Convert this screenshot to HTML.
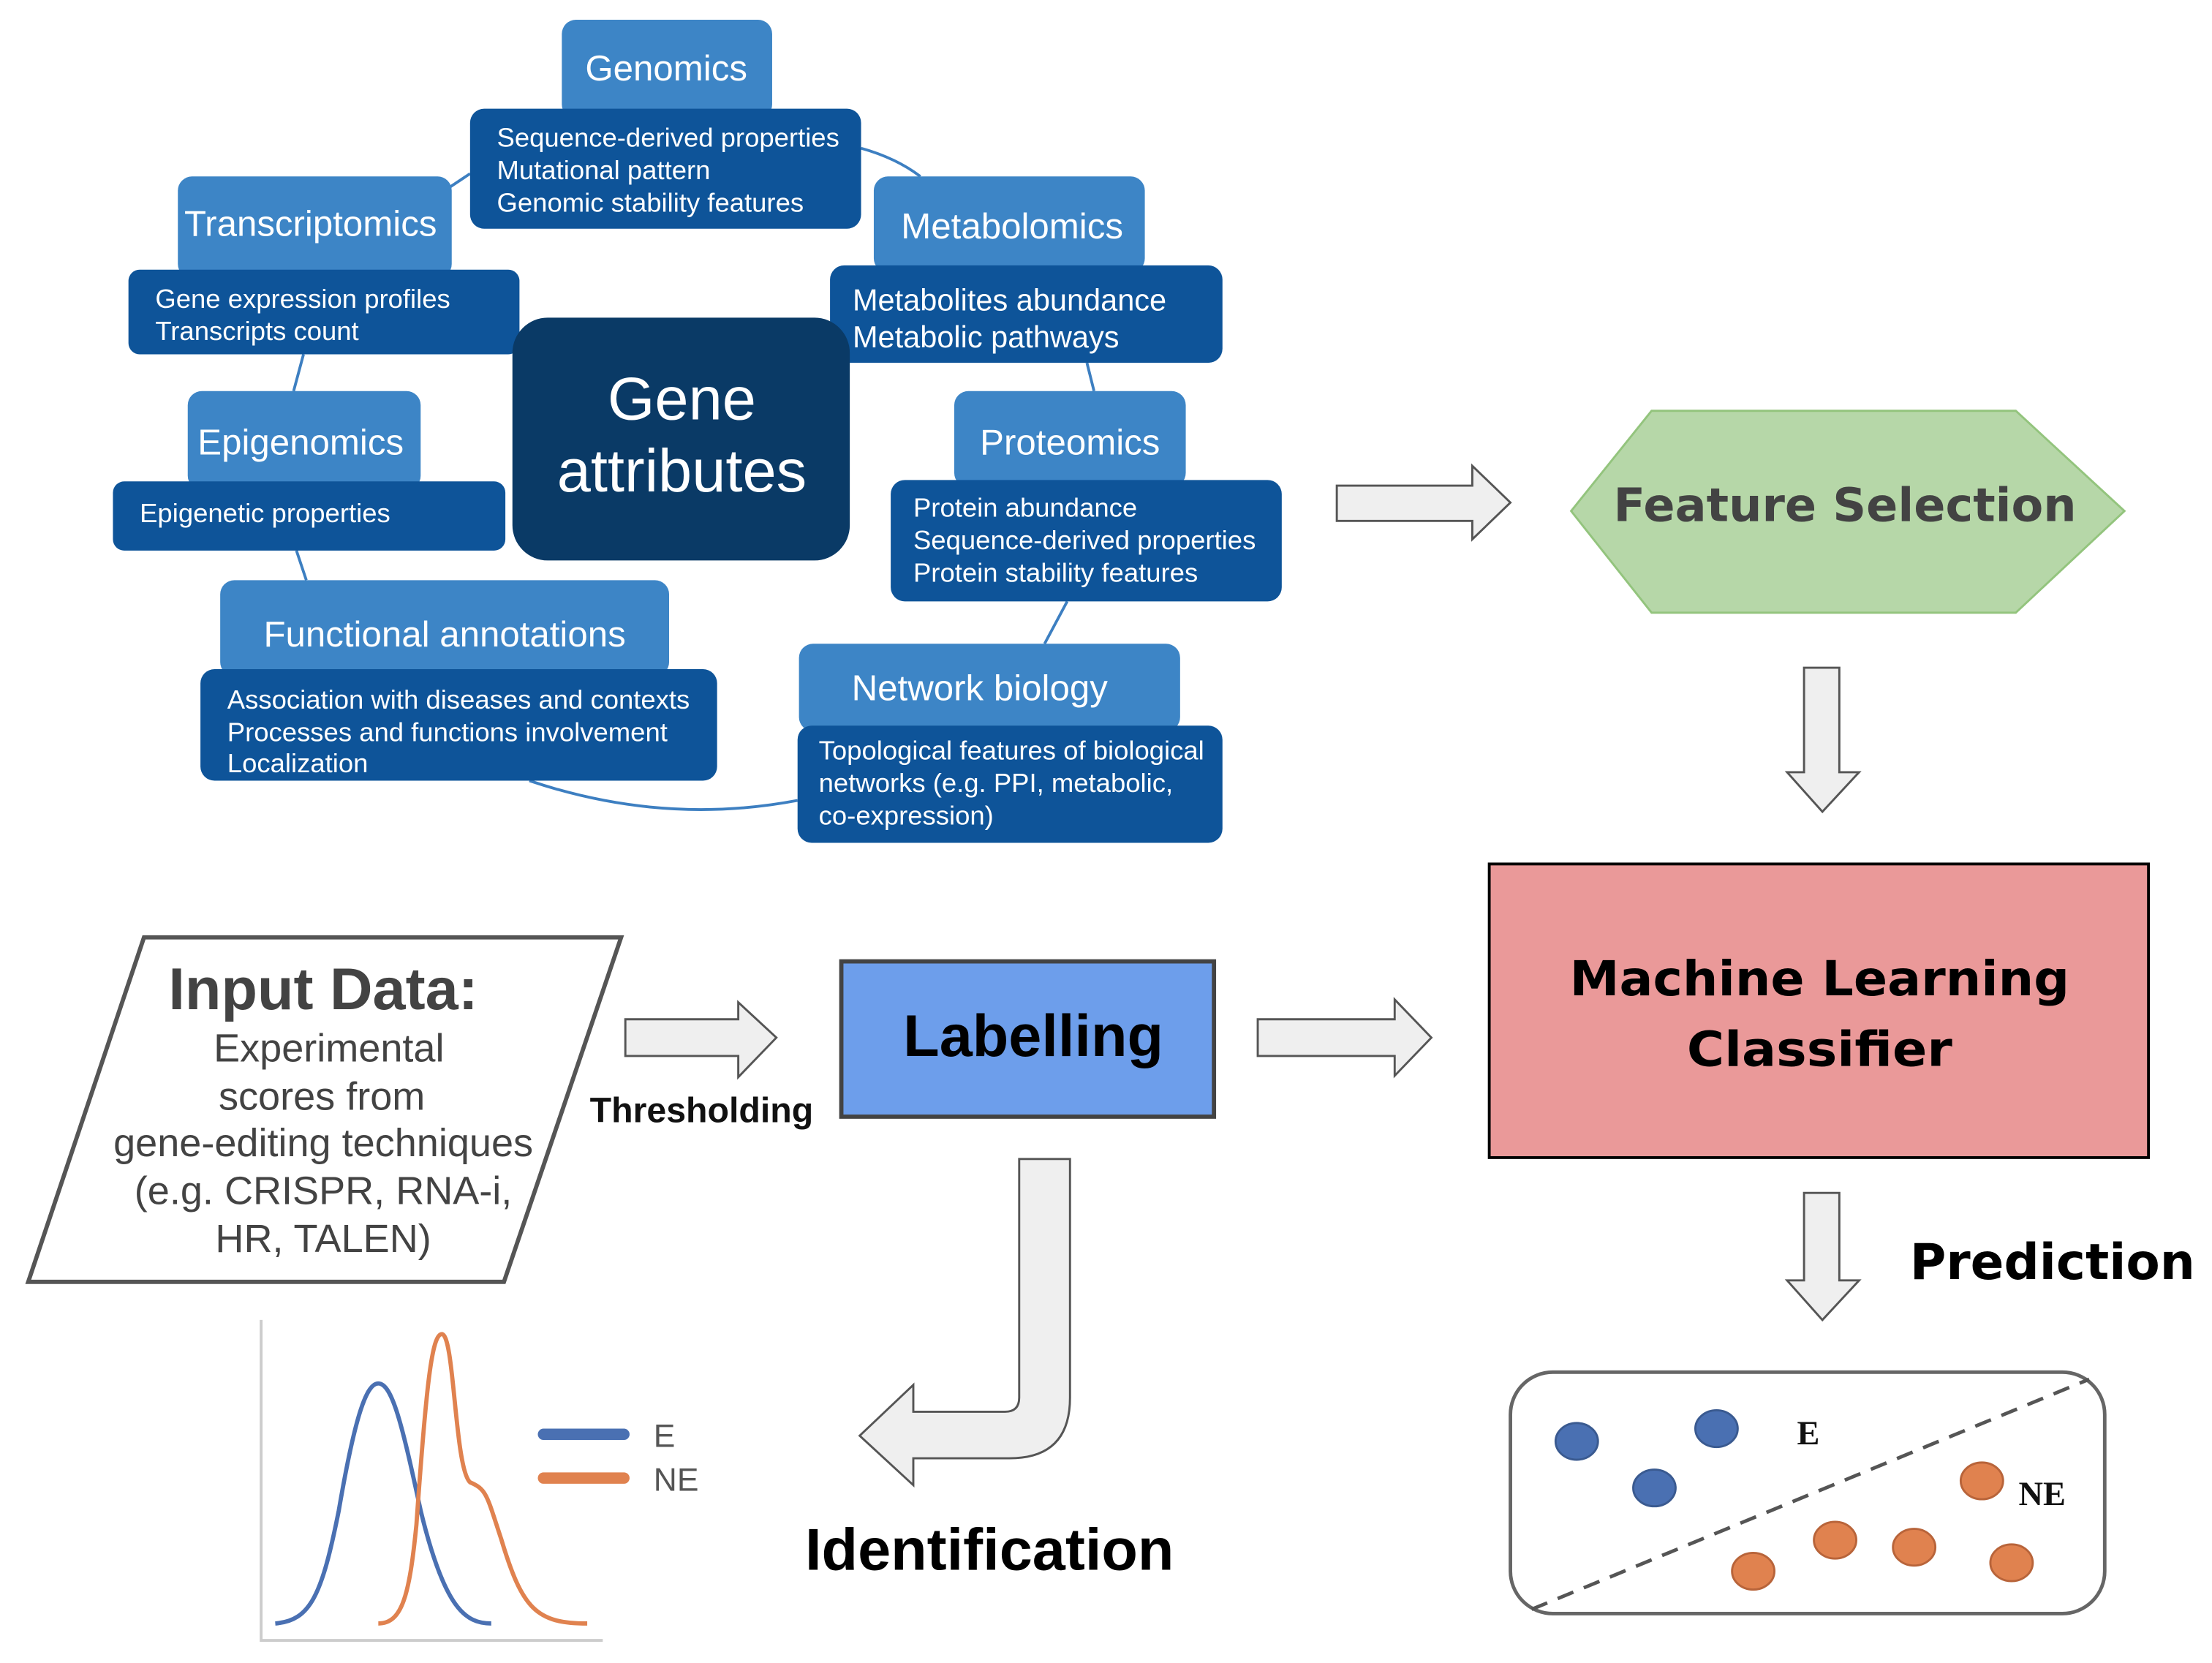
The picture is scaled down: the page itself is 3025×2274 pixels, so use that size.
<!DOCTYPE html>
<html><head><meta charset="utf-8"><style>html,body{margin:0;padding:0;background:#fff}svg{display:block}</style></head><body>
<svg width="3025" height="2274" viewBox="0 0 1567 1178" preserveAspectRatio="none" xmlns="http://www.w3.org/2000/svg" font-family="Liberation Sans, sans-serif">
<g stroke="#3d7fc1" stroke-width="2" fill="none">
<path d="M610,105 Q635,112 652,125"/><path d="M333,123 L318,133"/><path d="M215,251 L208,277"/><path d="M210,390 L217,411"/>
<path d="M375,553 Q470,585 565,567"/><path d="M756,426 L740,456"/><path d="M770,257 L775,277"/>
</g>
<g fill="#3d85c6">
<rect x="398" y="14" width="149" height="70" rx="10"/>
<rect x="126" y="125" width="194" height="72" rx="10"/>
<rect x="619" y="125" width="192" height="68" rx="10"/>
<rect x="133" y="277" width="165" height="70" rx="10"/>
<rect x="676" y="277" width="164" height="68" rx="10"/>
<rect x="156" y="411" width="318" height="68" rx="10"/>
<rect x="566" y="456" width="270" height="62" rx="10"/>
</g>
<g fill="#0e5499">
<rect x="333" y="77" width="277" height="85" rx="10"/>
<rect x="91" y="191" width="277" height="60" rx="8"/>
<rect x="588" y="188" width="278" height="69" rx="10"/>
<rect x="80" y="341" width="278" height="49" rx="8"/>
<rect x="631" y="340" width="277" height="86" rx="10"/>
<rect x="142" y="474" width="366" height="79" rx="10"/>
<rect x="565" y="514" width="301" height="83" rx="10"/>
</g>
<rect x="363" y="225" width="239" height="172" rx="25" fill="#0a3a66"/>
<g fill="#fff" font-size="25.5" text-anchor="middle">
<text x="472" y="57">Genomics</text><text x="220" y="167">Transcriptomics</text><text x="717" y="169">Metabolomics</text>
<text x="213" y="322">Epigenomics</text><text x="758" y="322">Proteomics</text><text x="315" y="458">Functional annotations</text>
<text x="694" y="496">Network biology</text>
<text x="483" y="297" font-size="43">Gene</text><text x="483" y="348" font-size="43">attributes</text>
</g>
<g fill="#fff" font-size="18.9">
<text x="352" y="104">Sequence-derived properties</text><text x="352" y="127">Mutational pattern</text><text x="352" y="150">Genomic stability features</text>
<text x="110" y="218">Gene expression profiles</text><text x="110" y="241">Transcripts count</text>
<text x="604" y="220" font-size="21.5">Metabolites abundance</text><text x="604" y="246" font-size="21.5">Metabolic pathways</text>
<text x="99" y="370">Epigenetic properties</text>
<text x="647" y="366">Protein abundance</text><text x="647" y="389">Sequence-derived properties</text><text x="647" y="412">Protein stability features</text>
<text x="161" y="502">Association with diseases and contexts</text><text x="161" y="525">Processes and functions involvement</text><text x="161" y="547">Localization</text>
<text x="580" y="538">Topological features of biological</text><text x="580" y="561">networks (e.g. PPI, metabolic,</text><text x="580" y="584">co-expression)</text>
</g>
<g fill="#efefef" stroke="#555" stroke-width="1.5">
<path d="M947,344 L1043,344 L1043,330 L1070,356 L1043,382 L1043,369 L947,369 Z"/>
<path d="M1278,473 L1303,473 L1303,547 L1317,547 L1291,575 L1266,547 L1278,547 Z"/>
<path d="M1278,845 L1303,845 L1303,907 L1317,907 L1291,935 L1266,907 L1278,907 Z"/>
<path d="M443,722 L523,722 L523,710 L550,735 L523,763 L523,748 L443,748 Z"/>
<path d="M891,722 L988,722 L988,708 L1014,735 L988,762 L988,748 L891,748 Z"/>
<path d="M722,821 L758,821 L758,990 Q758,1033 715,1033 L647,1033 L647,1052 L609,1017 L647,981 L647,1000 L712,1000 Q722,1000 722,990 Z"/>
</g>
<polygon points="1113,362 1170,291 1428,291 1505,362 1428,434 1170,434" fill="#b6d7a8" stroke="#93c47d" stroke-width="1.5"/>
<text x="1307" y="369" text-anchor="middle" font-family="DejaVu Sans, sans-serif" font-weight="bold" font-size="33" fill="#434343" textLength="328" lengthAdjust="spacingAndGlyphs">Feature Selection</text>
<rect x="1055" y="612" width="467" height="208" fill="#ea9999" stroke="#000" stroke-width="2"/>
<g font-family="DejaVu Sans, sans-serif" font-weight="bold" font-size="34" fill="#000" text-anchor="middle">
<text x="1289" y="705" textLength="354" lengthAdjust="spacingAndGlyphs">Machine Learning</text><text x="1289" y="755" textLength="188" lengthAdjust="spacingAndGlyphs">Classifier</text>
<text x="1454" y="906" font-size="35" textLength="202" lengthAdjust="spacingAndGlyphs">Prediction</text>
</g>
<rect x="1070" y="972" width="421" height="171" rx="30" fill="#fff" stroke="#666" stroke-width="2.5"/>
<line x1="1085" y1="1140" x2="1480" y2="977" stroke="#555" stroke-width="2.5" stroke-dasharray="12,8"/>
<g fill="#4a70b2" stroke="#3a5a90" stroke-width="1.5">
<ellipse cx="1117" cy="1021" rx="15" ry="13"/><ellipse cx="1216" cy="1012" rx="15" ry="13"/><ellipse cx="1172" cy="1054" rx="15" ry="13"/>
</g>
<g fill="#e0824f" stroke="#b8643a" stroke-width="1.5">
<ellipse cx="1404" cy="1049" rx="15" ry="13"/><ellipse cx="1242" cy="1113" rx="15" ry="13"/><ellipse cx="1300" cy="1091" rx="15" ry="13"/><ellipse cx="1356" cy="1096" rx="15" ry="13"/><ellipse cx="1425" cy="1107" rx="15" ry="13"/>
</g>
<g font-family="Liberation Serif, serif" font-weight="bold" font-size="24" fill="#111">
<text x="1273" y="1023">E</text><text x="1430" y="1066">NE</text>
</g>
<polygon points="102,664 440,664 357,908 20,908" fill="#fff" stroke="#555" stroke-width="3"/>
<g fill="#434343" text-anchor="middle" font-size="28">
<text x="229" y="715" font-weight="bold" font-size="42">Input Data:</text>
<text x="233" y="752">Experimental</text><text x="228" y="786">scores from</text><text x="229" y="819">gene-editing techniques</text>
<text x="229" y="853">(e.g. CRISPR, RNA-i,</text><text x="229" y="887">HR, TALEN)</text>
</g>
<text x="497" y="795" text-anchor="middle" font-weight="bold" font-size="25" fill="#111">Thresholding</text>
<rect x="596" y="681" width="264" height="110" fill="#6d9eeb" stroke="#434343" stroke-width="3"/>
<text x="732" y="748" text-anchor="middle" font-weight="bold" font-size="42" fill="#000">Labelling</text>
<text x="701" y="1112" text-anchor="middle" font-weight="bold" font-size="42" fill="#000">Identification</text>
<path d="M185,935 L185,1162 L427,1162" fill="none" stroke="#ccc" stroke-width="2"/>
<path d="M195,1150 C220,1148 228,1130 240,1070 C252,1000 260,980 268,980 C278,980 285,1010 298,1070 C315,1140 330,1150 348,1150" fill="none" stroke="#4a70b2" stroke-width="3"/>
<path d="M268,1150 C285,1150 290,1130 295,1080 C302,980 306,945 313,945 C322,945 322,1040 333,1050 C345,1055 345,1060 355,1090 C370,1140 380,1150 416,1150" fill="none" stroke="#e0824f" stroke-width="3"/>
<line x1="385" y1="1016" x2="442" y2="1016" stroke="#4a70b2" stroke-width="8" stroke-linecap="round"/>
<line x1="385" y1="1047" x2="442" y2="1047" stroke="#e0824f" stroke-width="8" stroke-linecap="round"/>
<g font-size="23" fill="#555"><text x="463" y="1025">E</text><text x="463" y="1056">NE</text></g>
</svg>
</body></html>
